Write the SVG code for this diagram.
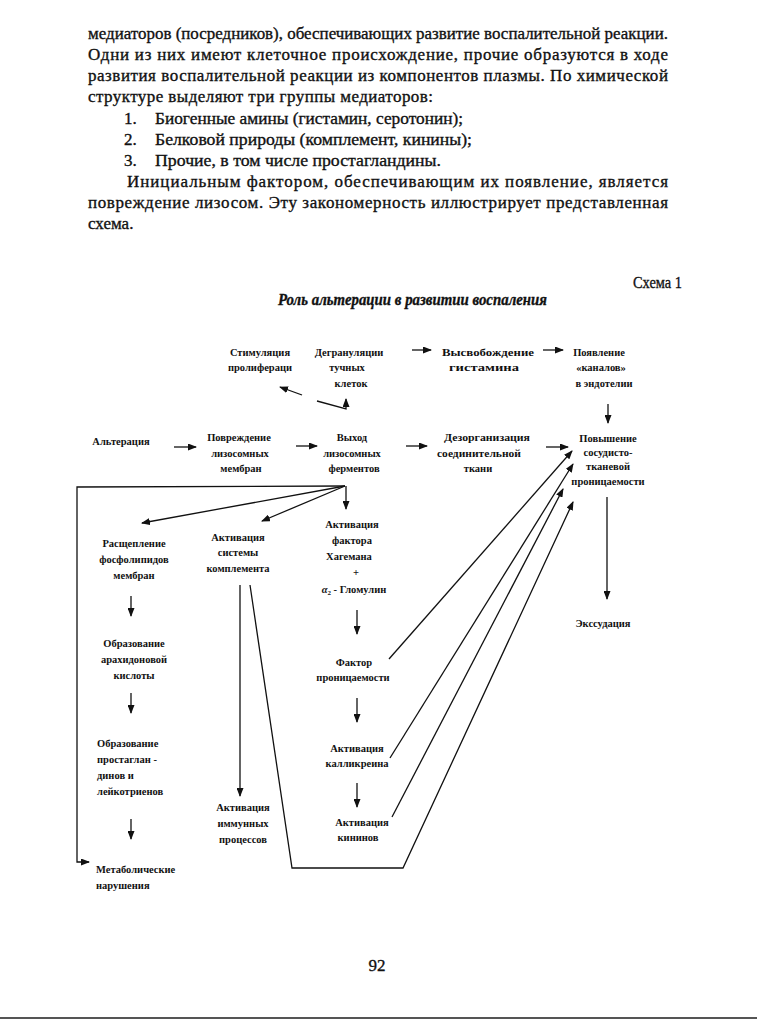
<svg xmlns="http://www.w3.org/2000/svg" width="757" height="1020" viewBox="0 0 757 1020">
<style>
.p{font-family:"Liberation Serif","Times New Roman",serif;font-size:17px;fill:#111;stroke:#111;stroke-width:0.35}
.t{font-family:"Liberation Serif","Times New Roman",serif;font-size:10.5px;font-weight:bold;fill:#111;text-anchor:middle}
.l{text-anchor:start}
.c{fill:none;stroke:#111;stroke-width:1.3}
</style>
<defs>
<marker id="ah" markerUnits="userSpaceOnUse" markerWidth="9" markerHeight="7" refX="8" refY="3.5" orient="auto">
<path d="M0,0 L9,3.5 L0,7 z" fill="#111"/>
</marker>
</defs>
<rect width="757" height="1020" fill="#fff"/>
<g id="page-text">
<text class="p" x="88" y="39" textLength="580" lengthAdjust="spacingAndGlyphs">медиаторов (посредников), обеспечивающих развитие воспалительной реакции.</text>
<text class="p" x="88" y="60" textLength="580" lengthAdjust="spacing">Одни из них имеют клеточное происхождение, прочие образуются в ходе</text>
<text class="p" x="88" y="81" textLength="580" lengthAdjust="spacing">развития воспалительной реакции из компонентов плазмы. По химической</text>
<text class="p" x="88" y="102" textLength="345" lengthAdjust="spacing">структуре выделяют три группы медиаторов:</text>
<text class="p" x="124" y="124">1.</text>
<text class="p" x="155" y="124" textLength="308" lengthAdjust="spacingAndGlyphs">Биогенные амины (гистамин, серотонин);</text>
<text class="p" x="124" y="145">2.</text>
<text class="p" x="155" y="145" textLength="317" lengthAdjust="spacingAndGlyphs">Белковой природы (комплемент, кинины);</text>
<text class="p" x="124" y="166">3.</text>
<text class="p" x="155" y="166" textLength="286" lengthAdjust="spacingAndGlyphs">Прочие, в том числе простагландины.</text>
<text class="p" x="127" y="187" textLength="541" lengthAdjust="spacing">Инициальным фактором, обеспечивающим их появление, является</text>
<text class="p" x="88" y="208" textLength="580" lengthAdjust="spacing">повреждение лизосом. Эту закономерность иллюстрирует представленная</text>
<text class="p" x="88" y="229">схема.</text>
<text class="p" x="633" y="288" font-size="15" textLength="49" lengthAdjust="spacingAndGlyphs">Схема 1</text>
<text class="p" x="278" y="305" font-size="14" font-weight="bold" font-style="italic" textLength="269" lengthAdjust="spacingAndGlyphs">Роль альтерации в развитии воспаления</text>
<text class="p" x="377" y="971" font-size="16" text-anchor="middle">92</text>
</g>
<g id="connectors">
<line class="c" x1="412" y1="350" x2="431" y2="350" marker-end="url(#ah)"/>
<line class="c" x1="543" y1="350" x2="563" y2="350" marker-end="url(#ah)"/>
<line class="c" x1="302" y1="395" x2="280" y2="387" marker-end="url(#ah)"/>
<polyline class="c" points="317,401 346,409 346,399" marker-end="url(#ah)"/>
<line class="c" x1="608" y1="404" x2="608" y2="423" marker-end="url(#ah)"/>
<line class="c" x1="174" y1="447" x2="196" y2="447" marker-end="url(#ah)"/>
<line class="c" x1="296" y1="446" x2="317" y2="446" marker-end="url(#ah)"/>
<line class="c" x1="406" y1="446" x2="427" y2="446" marker-end="url(#ah)"/>
<line class="c" x1="546" y1="447" x2="568" y2="447" marker-end="url(#ah)"/>
<polyline class="c" points="345,486 77,487 77,862 89,862" marker-end="url(#ah)"/>
<line class="c" x1="345" y1="486" x2="142" y2="523" marker-end="url(#ah)"/>
<line class="c" x1="345" y1="486" x2="262" y2="521" marker-end="url(#ah)"/>
<line class="c" x1="346" y1="486" x2="346" y2="509" marker-end="url(#ah)"/>
<line class="c" x1="131" y1="596" x2="131" y2="616" marker-end="url(#ah)"/>
<line class="c" x1="131" y1="693" x2="131" y2="713" marker-end="url(#ah)"/>
<line class="c" x1="131" y1="819" x2="131" y2="839" marker-end="url(#ah)"/>
<line class="c" x1="240" y1="585" x2="240" y2="796" marker-end="url(#ah)"/>
<polyline class="c" points="250,585 292,868 403,868 573,502" marker-end="url(#ah)"/>
<line class="c" x1="357" y1="610" x2="357" y2="634" marker-end="url(#ah)"/>
<line class="c" x1="357" y1="698" x2="357" y2="722" marker-end="url(#ah)"/>
<line class="c" x1="357" y1="783" x2="357" y2="807" marker-end="url(#ah)"/>
<line class="c" x1="389" y1="659" x2="572" y2="451" marker-end="url(#ah)"/>
<line class="c" x1="390" y1="758" x2="573" y2="464" marker-end="url(#ah)"/>
<line class="c" x1="392" y1="817" x2="563" y2="489" marker-end="url(#ah)"/>
<line class="c" x1="607" y1="497" x2="607" y2="599" marker-end="url(#ah)"/>
</g>
<g id="n-stim"><text class="t" x="260" y="356">Стимуляция</text><text class="t" x="260" y="371">пролифераци</text></g>
<g id="n-degran"><text class="t" x="349" y="356">Дегрануляции</text><text class="t" x="347" y="371">тучных</text><text class="t" x="351" y="387">клеток</text></g>
<g id="n-hist"><text class="t" x="488" y="356" textLength="92" lengthAdjust="spacingAndGlyphs">Высвобождение</text><text class="t" x="484" y="371" textLength="70" lengthAdjust="spacingAndGlyphs">гистамина</text></g>
<g id="n-kanal"><text class="t" x="599" y="356">Появление</text><text class="t" x="601" y="371">«каналов»</text><text class="t" x="604" y="387">в эндотелии</text></g>
<g id="n-alter"><text class="t" x="121" y="445">Альтерация</text></g>
<g id="n-povr"><text class="t" x="239" y="441">Повреждение</text><text class="t" x="240" y="457">лизосомных</text><text class="t" x="241" y="472">мембран</text></g>
<g id="n-vyhod"><text class="t" x="352" y="441">Выход</text><text class="t" x="352" y="457">лизосомных</text><text class="t" x="354" y="472">ферментов</text></g>
<g id="n-dezorg"><text class="t" x="487" y="441" textLength="86" lengthAdjust="spacingAndGlyphs">Дезорганизация</text><text class="t" x="479" y="457" textLength="84" lengthAdjust="spacingAndGlyphs">соединительной</text><text class="t" x="478" y="472">ткани</text></g>
<g id="n-pron"><text class="t" x="608" y="442">Повышение</text><text class="t" x="608" y="456">сосудисто-</text><text class="t" x="608" y="470">тканевой</text><text class="t" x="608" y="485">проницаемости</text></g>
<g id="n-rasch"><text class="t" x="134" y="547">Расщепление</text><text class="t" x="134" y="563">фосфолипидов</text><text class="t" x="134" y="579">мембран</text></g>
<g id="n-arah"><text class="t" x="134" y="647">Образование</text><text class="t" x="134" y="663">арахидоновой</text><text class="t" x="134" y="679">кислоты</text></g>
<g id="n-prost"><text class="t l" x="97" y="747">Образование</text><text class="t l" x="97" y="763">простаглан -</text><text class="t l" x="97" y="779">динов и</text><text class="t l" x="97" y="795">лейкотриенов</text></g>
<g id="n-metab"><text class="t l" x="96" y="873">Метаболические</text><text class="t l" x="96" y="889">нарушения</text></g>
<g id="n-kompl"><text class="t" x="238" y="541">Активация</text><text class="t" x="238" y="556">системы</text><text class="t" x="238" y="572">комплемента</text></g>
<g id="n-immun"><text class="t" x="243" y="811">Активация</text><text class="t" x="243" y="827">иммунных</text><text class="t" x="243" y="843">процессов</text></g>
<g id="n-hag"><text class="t" x="352" y="528">Активация</text><text class="t" x="352" y="544">фактора</text><text class="t" x="349" y="560">Хагемана</text><text class="t" x="356" y="576">+</text><text class="t" x="354" y="593"><tspan font-style="italic">α</tspan><tspan font-size="7" dy="2">2</tspan><tspan dy="-2"> - Гломулин</tspan></text></g>
<g id="n-faktor"><text class="t" x="354" y="666">Фактор</text><text class="t" x="353" y="681">проницаемости</text></g>
<g id="n-kallik"><text class="t" x="357" y="752">Активация</text><text class="t" x="357" y="767">калликреина</text></g>
<g id="n-kinin"><text class="t" x="362" y="826">Активация</text><text class="t" x="358" y="841">кининов</text></g>
<g id="n-ekss"><text class="t" x="603" y="627">Экссудация</text></g>
<line x1="0" y1="1018" x2="757" y2="1018" stroke="#555" stroke-width="2"/>
</svg>
